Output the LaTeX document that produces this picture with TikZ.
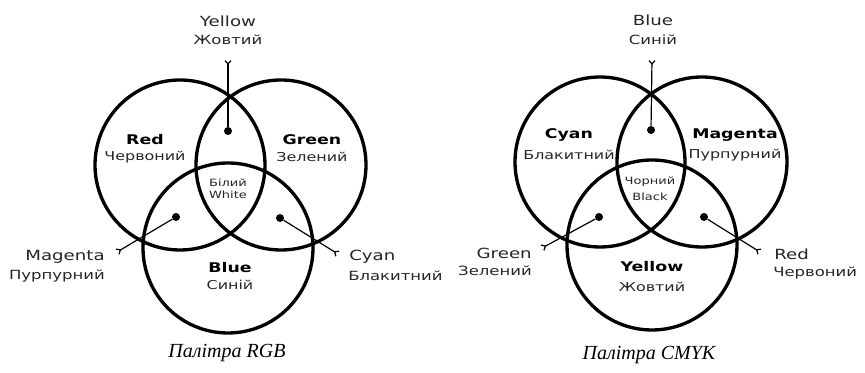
\documentclass[tikz,border=0pt]{standalone}
\usepackage{fontspec}
\setmainfont{DejaVu Sans}[FakeStretch=1.3]
\newfontfamily\capfont{Liberation Serif}
\usetikzlibrary{arrows.meta}
\tikzset{
  ring/.style={circle, draw, line width=2.5pt, minimum size=127.5pt, inner sep=0pt},
  dot/.style={circle, fill=black, inner sep=0pt, minimum size=6pt},
  lead/.style={line width=0.9pt, -{Straight Barb[reversed,length=2.5pt,width=4.5pt]}},
  main/.style={font=\fontsize{10}{11}\selectfont\bfseries, inner sep=0pt},
  sub/.style={font=\fontsize{9.2}{10}\selectfont, inner sep=0pt, text=black!85},
  outer/.style={font=\fontsize{10.5}{11}\selectfont, inner sep=0pt, text=black!85},
  outeru/.style={font=\fontsize{9.5}{10}\selectfont, inner sep=0pt, text=black!85},
  tinylab/.style={font=\fontsize{7.5}{8}\selectfont, inner sep=0pt, text=black!85},
  caption/.style={font=\capfont\itshape\fontsize{15}{17}\selectfont, inner sep=0pt},
}
\begin{document}
\begin{tikzpicture}[x=0.75pt, y=-0.75pt]
\useasboundingbox[fill=white] (0,0) rectangle (865,373);
% ---------- RGB ----------
\node[ring] (R) at (180,165) {};
\node[ring] (G) at (281,165) {};
\node[ring] (B) at (228,248) {};
\node[dot] (dT1) at (228,131) {};
\node[dot] (dL1) at (176,217) {};
\node[dot] (dR1) at (280,218) {};
\coordinate (eT1) at (228,60);
\coordinate (eL1) at (117,252);
\coordinate (eR1) at (338,254);
\draw[lead] (dT1) -- (eT1);
\draw[lead] (dL1) -- (eL1);
\draw[lead] (dR1) -- (eR1);
\node[outer] (yel1) at (228,21) {Yellow};
\node[outeru] (yel1u) at (228,40) {Жовтий};
\node[main] (red1) at (145,140) {Red};
\node[sub] (red1u) at (145,157) {Червоний};
\node[main] (grn1) at (312,140) {Green};
\node[sub] (grn1u) at (312,157) {Зелений};
\node[tinylab] (wht1u) at (228,183) {Білий};
\node[tinylab] (wht1) at (228,195) {White};
\node[main] (blu1) at (230,268) {Blue};
\node[sub] (blu1u) at (230,285) {Синій};
\node[outer, anchor=east] (mag1) at (105,257) {Magenta};
\node[outeru, anchor=east] (mag1u) at (105,276) {Пурпурний};
\node[outer, anchor=west] (cyn1) at (349,257) {Cyan};
\node[outeru, anchor=west] (cyn1u) at (348,276) {Блакитний};
\node[caption] (cap1) at (227,353) {Палітра RGB};
% ---------- CMYK ----------
\node[ring] (C) at (600,162) {};
\node[ring] (M) at (702,162) {};
\node[ring] (Y) at (652,245) {};
\node[dot] (dT2) at (651,130) {};
\node[dot] (dL2) at (599,217) {};
\node[dot] (dR2) at (704,217) {};
\coordinate (eT2) at (652,60);
\coordinate (eL2) at (542,248);
\coordinate (eR2) at (760,252);
\draw[lead] (dT2) -- (eT2);
\draw[lead] (dL2) -- (eL2);
\draw[lead] (dR2) -- (eR2);
\node[outer] (blu2) at (653,20) {Blue};
\node[outeru] (blu2u) at (653,40) {Синій};
\node[main] (cyn2) at (569,135) {Cyan};
\node[sub] (cyn2u) at (569,155) {Блакитний};
\node[main] (mag2) at (735,135) {Magenta};
\node[sub] (mag2u) at (735,155) {Пурпурний};
\node[tinylab] (blk2u) at (650,182) {Чорний};
\node[tinylab] (blk2) at (650,197) {Black};
\node[main] (yel2) at (652,267) {Yellow};
\node[sub] (yel2u) at (652,287) {Жовтий};
\node[outer, anchor=east] (grn2) at (532,253) {Green};
\node[outeru, anchor=east] (grn2u) at (532,271) {Зелений};
\node[outer, anchor=west] (red2) at (774,254) {Red};
\node[outeru, anchor=west] (red2u) at (773,273) {Червоний};
\node[caption] (cap2) at (649,355) {Палітра CMYK};
\end{tikzpicture}
\end{document}
